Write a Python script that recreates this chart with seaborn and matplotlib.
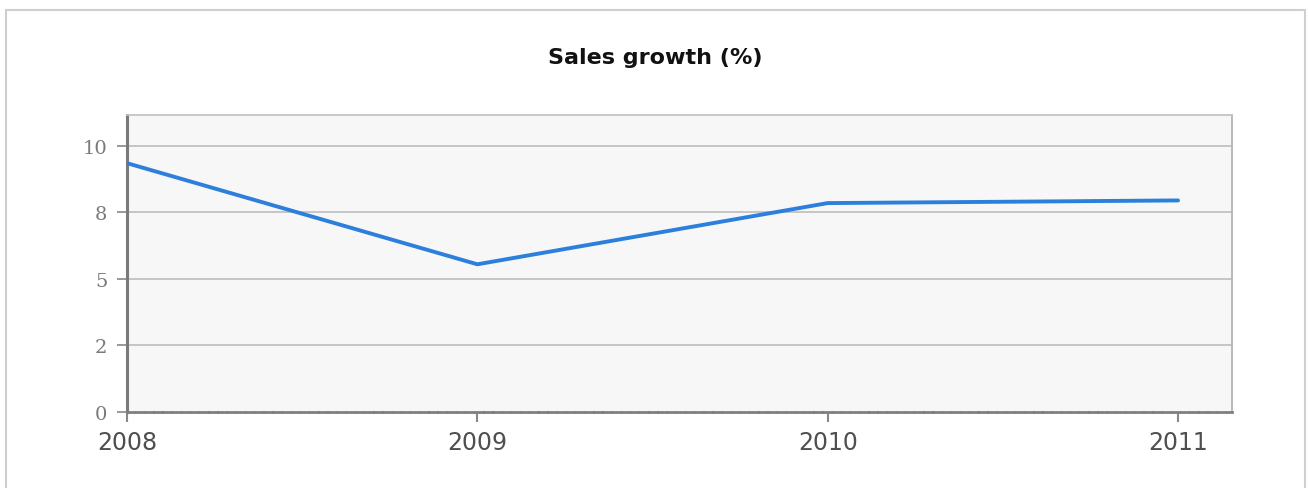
import matplotlib
matplotlib.use("Agg")
import matplotlib.pyplot as plt
import seaborn as sns
import pandas as pd
from matplotlib.patches import Rectangle

# --- DATOS ---
years = [2008, 2009, 2010, 2011]
growth = [9.35, 5.55, 7.85, 7.95]
ytick_vals = [0, 2.5, 5, 7.5, 10]
ytick_labels = ["0", "2", "5", "8", "10"]
xtick_labels = ["2008", "2009", "2010", "2011"]

df = pd.DataFrame({"year": years, "growth": growth})

sns.set_theme(style="white")
plt.rcParams["font.family"] = ["DejaVu Sans"]

fig = plt.figure(figsize=(13.08, 4.89), dpi=100)
fig.patch.set_facecolor("white")

# marco exterior gris claro
fig.patches.append(Rectangle((6 / 1308, -0.1), 1299 / 1308, 1.1 - 11 / 489,
                             transform=fig.transFigure, fill=False,
                             edgecolor="#cfcfcf", linewidth=1.5))

ax = fig.add_axes([127 / 1308, 76 / 489, 1105 / 1308, 297 / 489])
ax.set_facecolor("#f7f7f7")

# rejilla horizontal
for v in ytick_vals[1:]:
    ax.axhline(v, color="#bdbdbd", linewidth=1.2, zorder=1)

sns.lineplot(data=df, x="year", y="growth", ax=ax, color="#2c80dc",
             linewidth=2.8, zorder=3)

ax.set_xlim(2008, 2011.154)
ax.set_ylim(0, 11.16)
ax.set_xticks(years)
ax.set_xticklabels(xtick_labels, color="#4f4f4f", fontsize=17)
ax.set_yticks(ytick_vals)
ax.set_yticklabels(ytick_labels, color="#7a7a7a", fontsize=14,
                   family="DejaVu Serif")
ax.set_xlabel("")
ax.set_ylabel("")

ax.tick_params(axis="y", left=True, length=7, width=1.2, color="#888888", pad=7)
ax.tick_params(axis="x", bottom=True, length=7, width=1.5, color="#888888", pad=6)

ax.spines["left"].set_color("#7a7a7a")
ax.spines["left"].set_linewidth(2.2)
ax.spines["bottom"].set_color("#7f7f7f")
ax.spines["bottom"].set_linewidth(2.0)
ax.spines["bottom"].set_linestyle((0, (2.5, 0.8)))
ax.spines["top"].set_color("#c4c4c4")
ax.spines["top"].set_linewidth(1.3)
ax.spines["right"].set_color("#b4b4b4")
ax.spines["right"].set_linewidth(1.3)

fig.text(655 / 1308, 1 - 58 / 489, "Sales growth (%)", ha="center", va="center",
         fontsize=16, fontweight="bold", color="#111111")

fig.savefig("out.png", dpi=100)
